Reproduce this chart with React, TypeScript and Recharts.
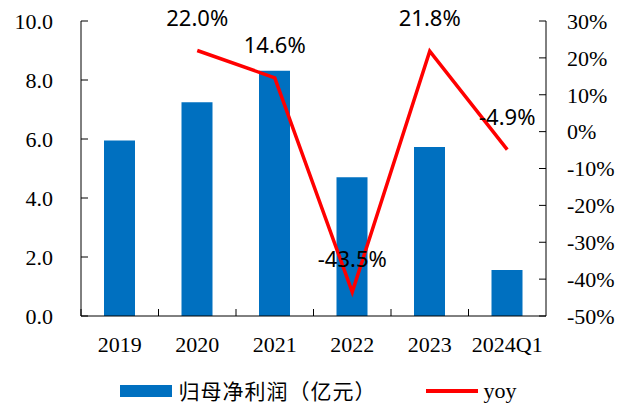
import React from 'react';
import { ComposedChart, Bar, Line, XAxis, YAxis, Legend, LabelList } from 'recharts';

const categories = ['2019', '2020', '2021', '2022', '2023', '2024Q1'];
const netProfit = [5.95, 7.25, 8.31, 4.7, 5.73, 1.56];
const yoy: (number | null)[] = [null, 22.0, 14.6, -43.5, 21.8, -4.9];
const leftTicks = [0, 2, 4, 6, 8, 10];
const rightTicks = [-50, -40, -30, -20, -10, 0, 10, 20, 30];

const data = categories.map((name, i) => ({ name, profit: netProfit[i], yoy: yoy[i] }));

const W = 618;
const H = 405;
const LEFT_W = 81;
const RIGHT_W = 72;
const BAND = (W - LEFT_W - RIGHT_W) / categories.length;
const X_MARGIN = 20;
const SERIF = "'Liberation Serif', 'Times New Roman', serif";

const XTick = (props: any) => {
  const { x, y, payload } = props;
  const axisY = y - X_MARGIN;
  const left = x - BAND / 2;
  return (
    <g>
      <line x1={left} x2={left} y1={axisY} y2={axisY - 7} stroke="#000" strokeWidth={1} />
      <text x={x} y={y} dy="0.71em" textAnchor="middle" fill="#000" fontSize={22} fontFamily={SERIF}>
        {payload.value}
      </text>
    </g>
  );
};

const renderLegend = () => (
  <div
    style={{
      height: 29,
      boxSizing: 'border-box',
      paddingTop: 0,
      display: 'flex',
      justifyContent: 'center',
      alignItems: 'center',
      paddingLeft: 18,
      lineHeight: '21px',
    }}
  >
    <span style={{ display: 'inline-block', width: 52, height: 12, background: '#0070C0', marginRight: 7 }} />
    <span
      style={{
        fontFamily: "'Noto Sans CJK SC', sans-serif",
        fontSize: 21,
        lineHeight: '21px',
        color: '#000',
        marginRight: 49,
        letterSpacing: 1,
      }}
    >
      归母净利润（亿元）
    </span>
    <span style={{ display: 'inline-block', width: 52, height: 4, background: '#FF0000', marginRight: 6 }} />
    <span style={{ fontFamily: SERIF, fontSize: 22, lineHeight: '21px', color: '#000' }}>yoy</span>
  </div>
);

const axisFont = { fill: '#000', fontSize: 22, fontFamily: SERIF };

export default function App() {
  return (
    <div style={{ position: 'absolute', left: 0, top: 0, width: W, height: H, background: '#fff' }}>
      <ComposedChart width={W} height={H} data={data} margin={{ top: 21, right: 0, bottom: 0, left: 0 }}>
        <XAxis
          dataKey="name"
          height={60}
          tick={<XTick />}
          tickLine={false}
          tickSize={0}
          tickMargin={X_MARGIN}
          axisLine={{ stroke: '#000', strokeWidth: 1 }}
          interval={0}
        />
        <YAxis
          yAxisId="left"
          width={LEFT_W}
          domain={[0, 10]}
          ticks={leftTicks}
          tickFormatter={(v: number) => v.toFixed(1)}
          tick={axisFont}
          tickSize={-7}
          tickMargin={35}
          tickLine={{ stroke: '#000' }}
          axisLine={{ stroke: '#000', strokeWidth: 1 }}
          interval={0}
        />
        <YAxis
          yAxisId="right"
          orientation="right"
          width={RIGHT_W}
          domain={[-50, 30]}
          ticks={rightTicks}
          tickFormatter={(v: number) => `${v}%`}
          tick={{ ...axisFont, textAnchor: 'start' }}
          tickSize={-7}
          tickMargin={28}
          tickLine={{ stroke: '#000' }}
          axisLine={{ stroke: '#000', strokeWidth: 1 }}
          interval={0}
        />
        <Legend verticalAlign="bottom" content={renderLegend} />
        <Bar yAxisId="left" dataKey="profit" fill="#0070C0" barSize={31} isAnimationActive={false} />
        <Line
          yAxisId="right"
          dataKey="yoy"
          type="linear"
          stroke="#FF0000"
          strokeWidth={3.5}
          dot={false}
          activeDot={false}
          isAnimationActive={false}
        >
          <LabelList
            dataKey="yoy"
            position="top"
            offset={25}
            formatter={(v: any) => (v == null ? '' : `${Number(v).toFixed(1)}%`)}
            fill="#000"
            fontSize={22}
            fontFamily="'Noto Sans', sans-serif"
          />
        </Line>
      </ComposedChart>
    </div>
  );
}
